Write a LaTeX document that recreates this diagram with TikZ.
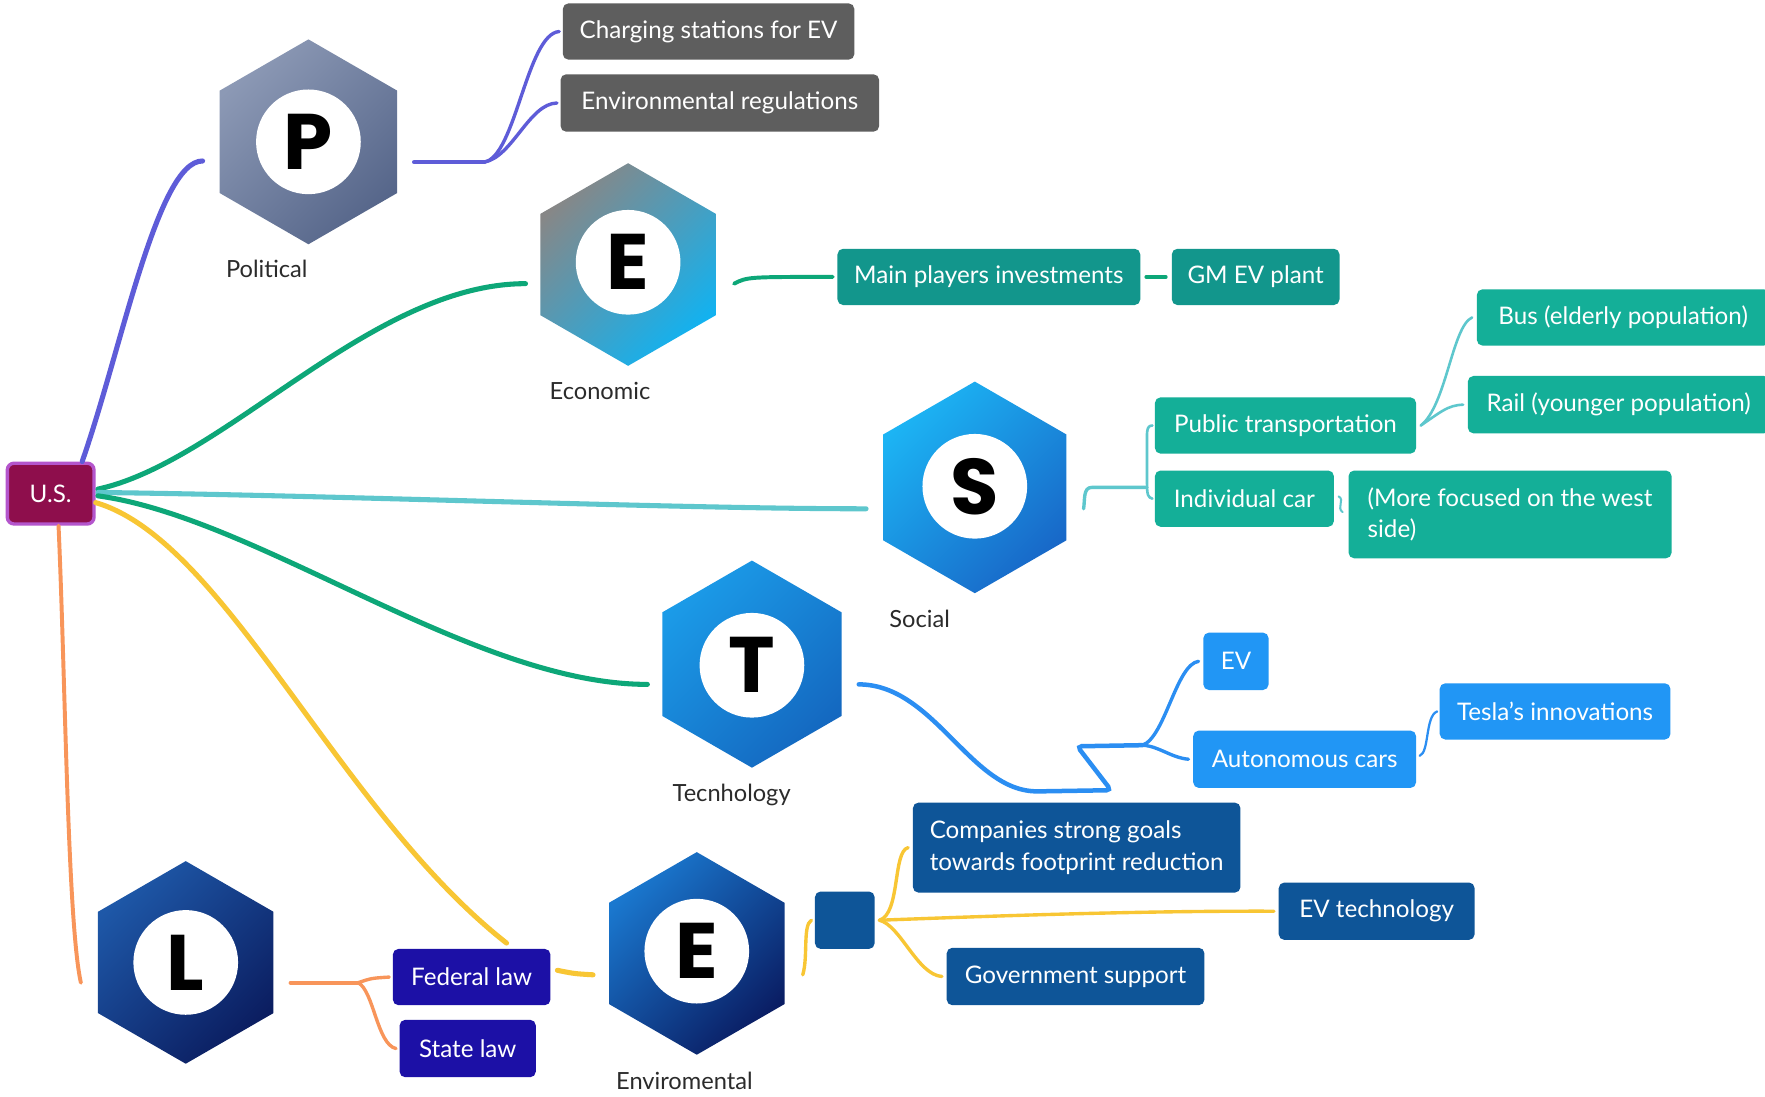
\documentclass[tikz,border=0pt]{standalone}
\usepackage{fontspec}
\setmainfont{Lato}
\newfontfamily\letterfamily{Poppins}
\usetikzlibrary{shapes.geometric,calc}

% palette
\definecolor{usfill}{HTML}{8E0E4C}
\definecolor{usedge}{HTML}{B455CC}
\definecolor{cardgray}{HTML}{5E5E5E}
\definecolor{econteal}{HTML}{12968C}
\definecolor{socteal}{HTML}{14AF98}
\definecolor{techblue}{HTML}{2196F5}
\definecolor{envblue}{HTML}{0E5598}
\definecolor{lawblue}{HTML}{1C10A6}
\definecolor{lnpurple}{HTML}{5E5CD8}
\definecolor{lngreen}{HTML}{0DA778}
\definecolor{lncyan}{HTML}{5EC7CD}
\definecolor{lnblue}{HTML}{2B8EF2}
\definecolor{lnyellow}{HTML}{F8C634}
\definecolor{lnorange}{HTML}{F8955A}
\definecolor{labelgray}{HTML}{2B2B2B}
% hexagon gradients
\definecolor{pA}{HTML}{8C99B5}\definecolor{pB}{HTML}{56668A}
\definecolor{eA}{HTML}{878787}\definecolor{eB}{HTML}{12B2F0}
\definecolor{sA}{HTML}{1CB4F4}\definecolor{sM}{HTML}{1AA4EC}\definecolor{sB}{HTML}{1868C8}
\definecolor{tA}{HTML}{1B9BE8}\definecolor{tM}{HTML}{1570C8}\definecolor{tB}{HTML}{1468C0}
\definecolor{vA}{HTML}{1A78CF}\definecolor{vB}{HTML}{0A1D63}
\definecolor{lA}{HTML}{1E58A8}\definecolor{lB}{HTML}{0B1D60}

\newcommand\cardfont{\fontsize{21.5}{28}\selectfont}
\newcommand\tagfont{\fontsize{21}{24}\selectfont}
\newcommand\letterfont{\letterfamily\bfseries\fontsize{70}{70}\selectfont}

\tikzset{
  hexa/.style={regular polygon, regular polygon sides=6, shape border rotate=30,
    minimum size=182, inner sep=0, draw=none, shading angle=45},
  disc/.style={circle, fill=white, minimum size=93, inner sep=0, font=\letterfont, text=black},
  tag/.style={font=\tagfont, text=labelgray, inner sep=0},
  card/.style={rounded corners=5, text=white, font=\cardfont, inner sep=0,
    minimum height=50, align=center},
  link/.style={line width=4.5, line cap=round},
  twig/.style={line width=3, line cap=round},
  fine/.style={line width=2.3, line cap=round},
}

\begin{document}
\begin{tikzpicture}[x=1pt,y=-1pt]
\useasboundingbox[fill=white] (0,0) rectangle (1568,974);

% central node
\node[rounded corners=6, fill=usfill, draw=usedge, line width=3, minimum width=77,
  minimum height=54, text=white, font=\cardfont, inner sep=0] (us) at (45,438.5) {U.S.};

% PESTEL hexagons
\node[hexa, top color=pA, bottom color=pB, shading angle=45] (hP) at (274,126) {};
\node[disc] (cP) at (274,126) {P};
\node[tag] (lP) at (237,239) {Political};

\node[hexa, minimum size=180, top color=eA, bottom color=eB, shading angle=45] (hE1) at (558,235) {};
\node[disc] (cE1) at (558,233) {E};
\node[tag] (lE1) at (533,347) {Economic};

\node[hexa, minimum size=188, top color=sA, middle color=sM, bottom color=sB, shading angle=45] (hS) at (866,433) {};
\node[disc] (cS) at (866,432) {S};
\node[tag] (lS) at (817,550) {Social};

\node[hexa, minimum size=184, top color=tA, middle color=tM, bottom color=tB, shading angle=45] (hT) at (668,590) {};
\node[disc] (cT) at (668,591) {T};
\node[tag] (lT) at (650,706) {Tecnhology};

\node[hexa, minimum size=180, top color=vA, bottom color=vB, shading angle=45] (hE2) at (619,847) {};
\node[disc] (cE2) at (619,845) {E};
\node[tag] (lE2) at (608,960) {Enviromental};

\node[hexa, minimum size=180, top color=lA, middle color=lB, bottom color=lB, shading angle=45] (hL) at (165,855) {};
\node[disc] (cL) at (165,855) {L};

% political
\node[card, fill=cardgray, minimum width=259] (charge) at (629.5,28) {Charging stations for EV};
\node[card, fill=cardgray, minimum width=283, minimum height=51] (envreg) at (639.5,91.5) {Environmental regulations};

% economic
\node[card, fill=econteal, minimum width=269] (mainpl) at (878.5,246) {Main players investments};
\node[card, fill=econteal, minimum width=149] (gm) at (1115.5,246) {GM EV plant};

% social
\node[card, fill=socteal, minimum width=260] (bus) at (1442,282) {Bus (elderly population)};
\node[card, fill=socteal, minimum width=268, minimum height=51] (rail) at (1438,359.5) {Rail (younger population)};
\node[card, fill=socteal, minimum width=232] (pub) at (1142,378) {Public transportation};
\node[card, fill=socteal, minimum width=159] (indiv) at (1105.5,443) {Individual car};
\node[card, fill=socteal, minimum width=287, minimum height=78, align=left] (west) at (1341.5,457) {(More focused on the west\\side)};

% technology
\node[card, fill=techblue, minimum width=58, minimum height=51] (ev) at (1098,587.5) {EV};
\node[card, fill=techblue, minimum width=198, minimum height=51] (auto) at (1159,674.5) {Autonomous cars};
\node[card, fill=techblue, minimum width=205] (tesla) at (1381.5,632) {Tesla’s innovations};

% environmental
\node[card, fill=envblue, minimum width=53, minimum height=51] (sq) at (750.5,817.5) {};
\node[card, fill=envblue, minimum width=291, minimum height=80, align=left] (comp) at (956.5,753) {Companies strong goals\\towards footprint reduction};
\node[card, fill=envblue, minimum width=174, minimum height=51] (evtech) at (1223,809.5) {EV technology};
\node[card, fill=envblue, minimum width=229, minimum height=51] (gov) at (955.5,867.5) {Government support};

% legal
\node[card, fill=lawblue, minimum width=140] (fed) at (419,868) {Federal law};
\node[card, fill=lawblue, minimum width=121, minimum height=51] (state) at (415.5,931.5) {State law};

% ---- branches ----
% political
\draw[link, lnpurple] ($(us.north)+(28,0)$) .. controls (108,310) and (140,143) .. ($(hP.west)+(-15,17)$);
\coordinate (pj) at ($(hP.east)+(77,18)$);
\draw[link, lnpurple, line width=4] ($(hP.east)+(15,18)$) -- (pj);
\draw[twig, lnpurple] (pj) .. controls (458,140) and (468,30) .. ($(charge.west)+(-3,0)$);
\draw[twig, lnpurple] (pj) .. controls (455,140) and (470,92) .. ($(envreg.west)+(-3,0)$);

% economic
\draw[link, lngreen] ($(us.east)+(2,-4)$) .. controls (200,410) and (330,252) .. ($(hE1.west)+(-13,17)$);
\draw[twig, lngreen, line width=3.5] ($(hE1.east)+(16,17)$) .. controls (664,246) .. ($(mainpl.west)+(-4,0)$);
\draw[twig, lngreen] ($(mainpl.east)+(5,0)$) -- ($(gm.west)+(-5,0)$);

% social
\draw[link, lncyan] ($(us.east)+(2,-1)$) .. controls (300,440) and (600,452) .. ($(hS.west)+(-15,19)$);
\coordinate (sj) at (1019,433);
\draw[twig, lncyan] ($(hS.east)+(15,19)$) .. controls (964,444) and (962,433) .. (970,433) -- (sj);
\draw[fine, lncyan] ($(pub.west)+(-2,0)$) .. controls (1018,378) and (1019,385) .. (1019,395)
  -- (1019,430) .. controls (1019,440) and (1020,442) .. ($(indiv.west)+(-2,0)$);
\coordinate (pubj) at ($(pub.east)+(4,0)$);
\draw[fine, lncyan] (pubj) .. controls (1285,360) and (1290,290) .. ($(bus.west)+(-4,0)$);
\draw[fine, lncyan] (pubj) .. controls (1280,366) and (1286,360) .. ($(rail.west)+(-4,0)$);
\draw[fine, lncyan, line width=1.8] ($(indiv.east)+(4,-2)$) .. controls (1195,444) and (1187,451) .. ($(west.west)+(-5,-2)$);

% technology
\draw[link, lngreen] ($(us.east)+(2,2)$) .. controls (230,460) and (420,608) .. ($(hT.west)+(-13,18)$);
\coordinate (tj) at (1015,662);
\draw[link, lnblue, line width=4, rounded corners=4] ($(hT.east)+(15,18)$) .. controls (830,608) and (862,703) .. (925,703)
  -- (987,702) -- (957,663) -- (tj);
\draw[twig, lnblue] (tj) .. controls (1035,655) and (1045,590) .. ($(ev.west)+(-4,0)$);
\draw[twig, lnblue] (tj) .. controls (1030,663) and (1040,673) .. ($(auto.west)+(-4,0)$);
\draw[fine, lnblue, line width=2] ($(auto.east)+(3,-3)$) .. controls (1270,668) and (1266,636) .. ($(tesla.west)+(-2,0)$);

% environmental
\draw[link, lnyellow] ($(us.east)+(0,8)$) .. controls (200,480) and (300,720) .. ($(fed.north)+(31,-5)$);
\draw[link, lnyellow] ($(fed.east)+(6,-6)$) .. controls (510,865) .. ($(hE2.west)+(-14,19)$);
\draw[twig, lnyellow] ($(hE2.east)+(16,19)$) .. controls (718,850) and (713,822) .. ($(sq.west)+(-3,0)$);
\coordinate (sqj) at ($(sq.east)+(4,0)$);
\draw[twig, lnyellow] (sqj) .. controls (800,812) and (793,756) .. ($(comp.west)+(-4,0)$);
\draw[twig, lnyellow] (sqj) .. controls (850,815) and (1000,809) .. ($(evtech.west)+(-4,0)$);
\draw[twig, lnyellow] (sqj) .. controls (800,822) and (815,866) .. ($(gov.west)+(-4,0)$);

% legal
\draw[link, lnorange, line width=3.5] ($(us.south)+(7,0)$) .. controls (58,600) and (60,820) .. ($(hL.west)+(-15,18)$);
\coordinate (lj) at ($(hL.east)+(75,18)$);
\draw[link, lnorange, line width=3.5] ($(hL.east)+(15,18)$) -- (lj);
\draw[twig, lnorange] (lj) .. controls (330,869) .. ($(fed.west)+(-3,0)$);
\draw[twig, lnorange] (lj) .. controls (332,880) and (335,928) .. ($(state.west)+(-3,0)$);
\end{tikzpicture}
\end{document}
